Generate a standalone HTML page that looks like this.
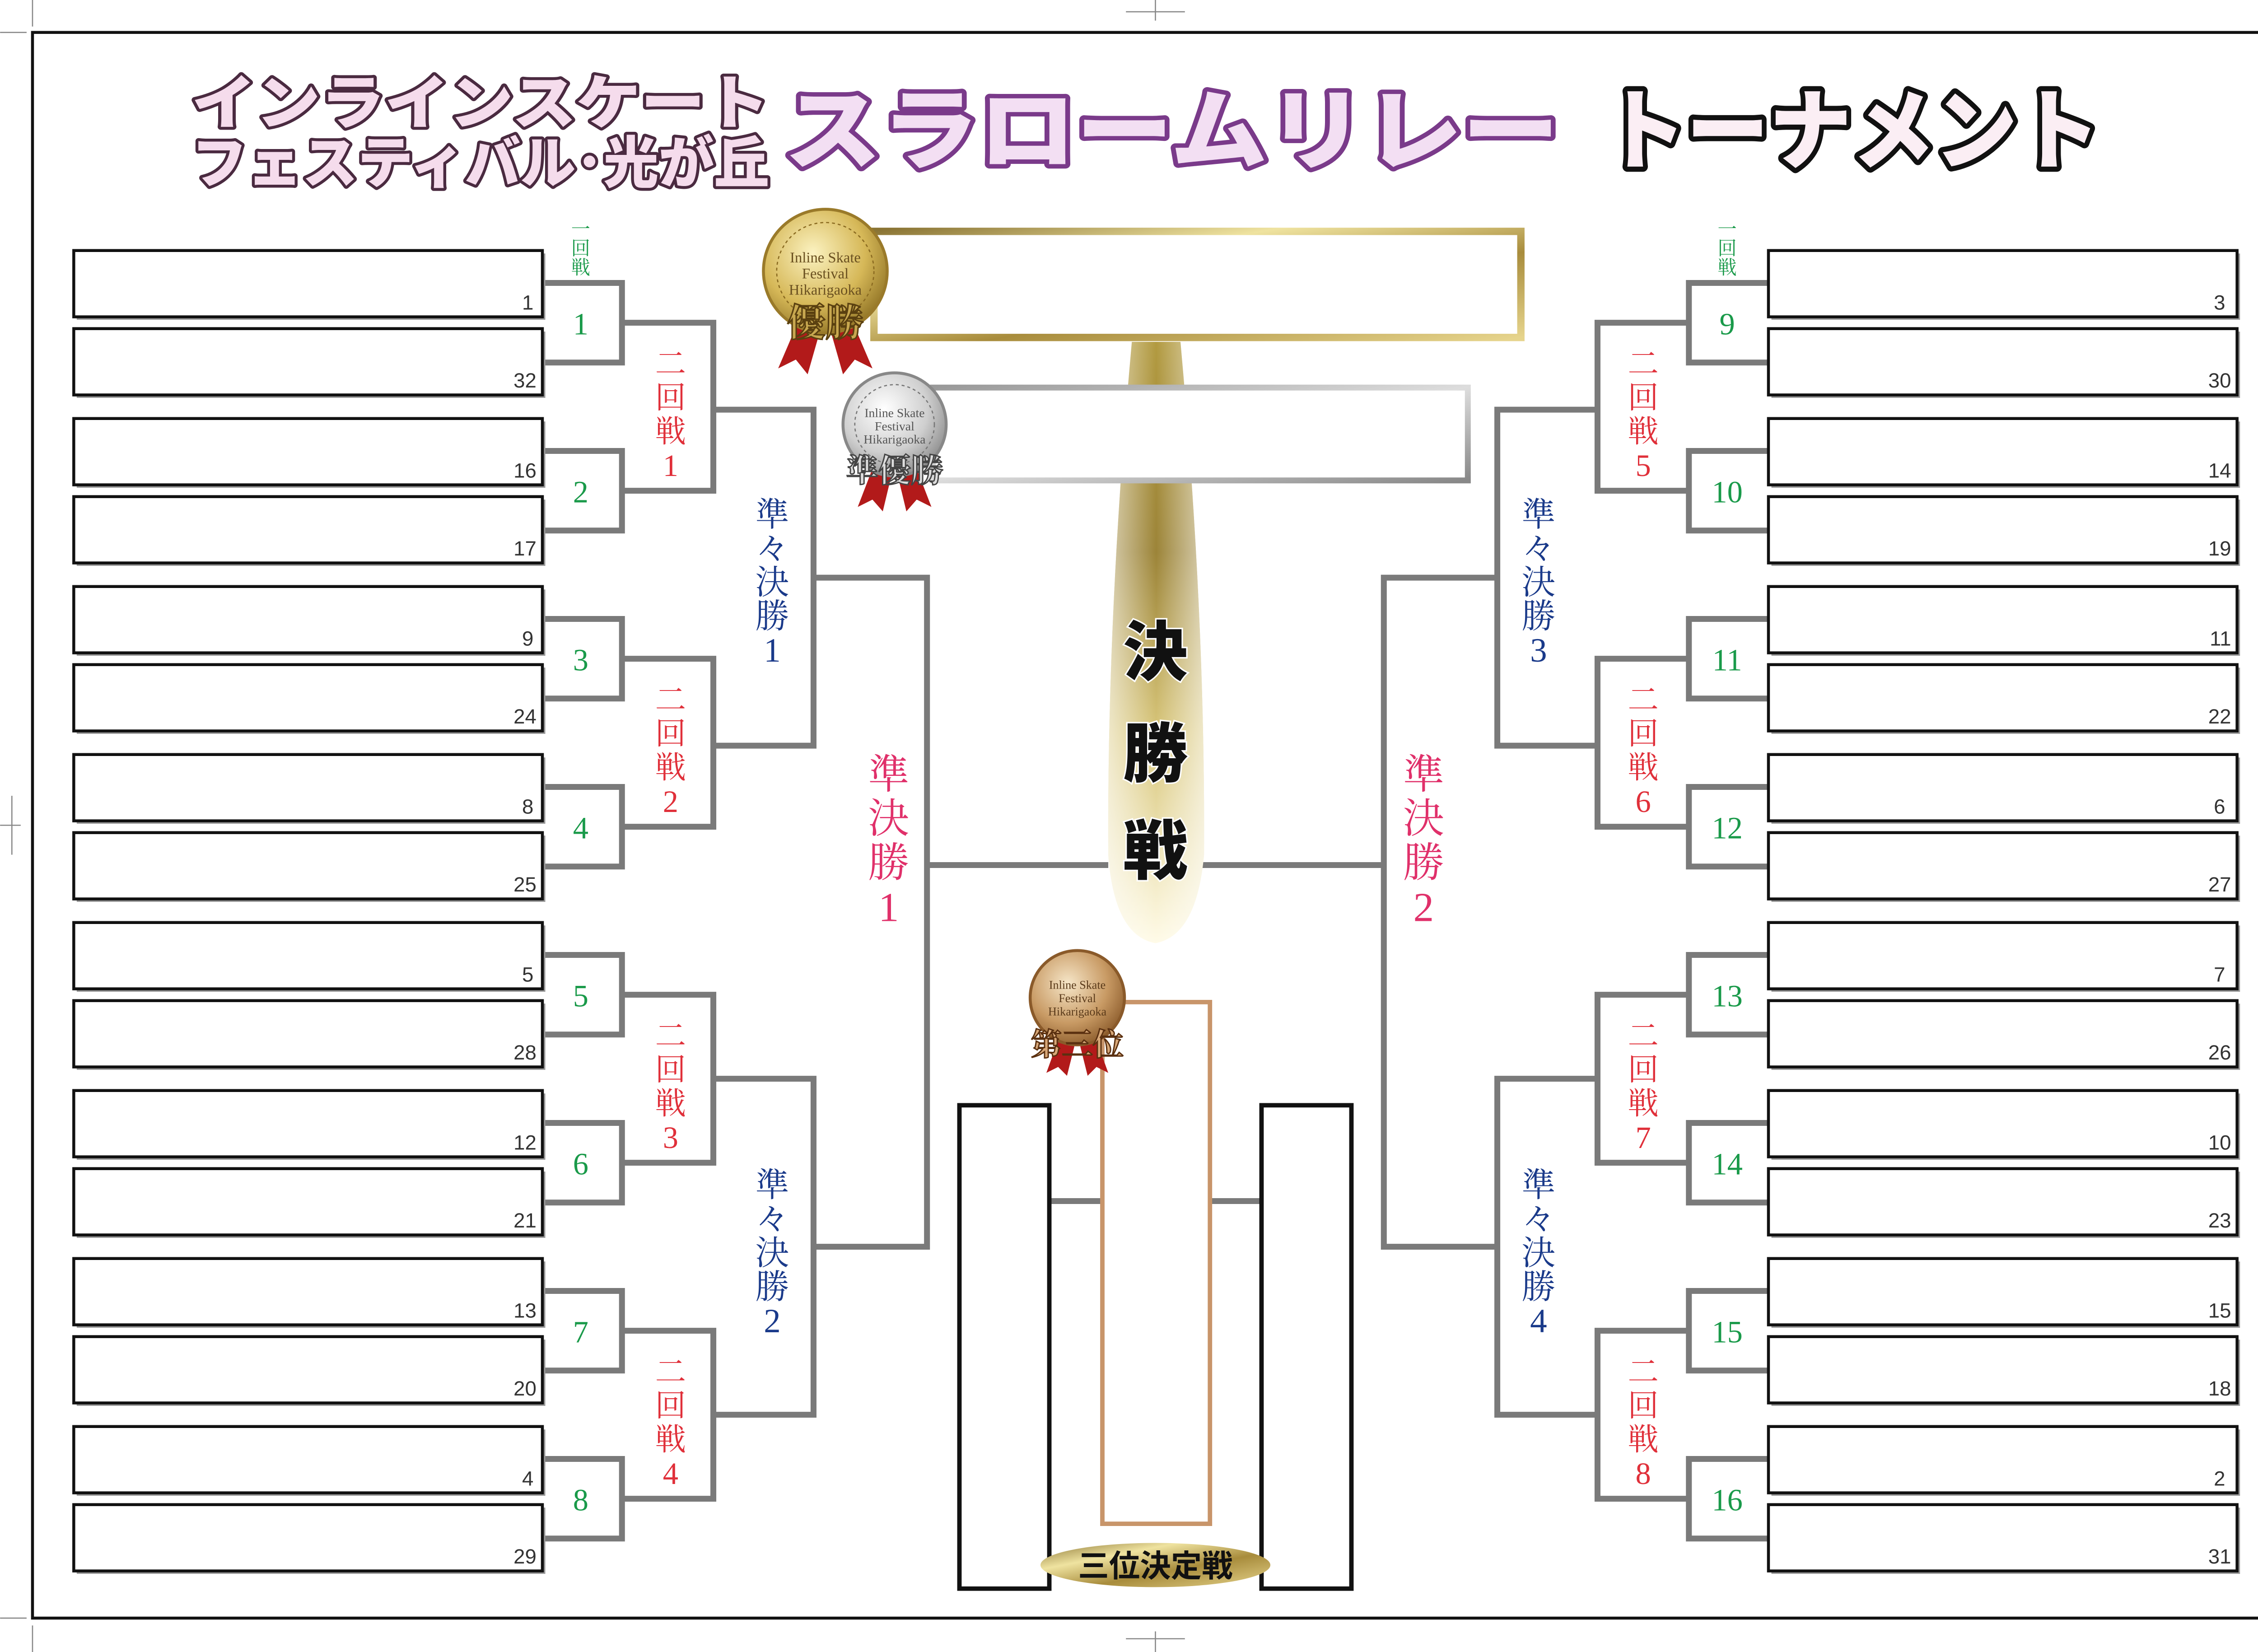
<!DOCTYPE html>
<html><head><meta charset="utf-8">
<style>
html,body{margin:0;padding:0;background:#fff;}
svg{display:block;}
</style></head><body>
<svg width="5117" height="3658" viewBox="0 0 1568 1121" xmlns="http://www.w3.org/2000/svg" font-family="Liberation Serif, Noto Serif CJK SC, Noto Sans CJK JP, serif">
<defs>
<linearGradient id="gold" x1="0" y1="0" x2="1" y2="1">
<stop offset="0" stop-color="#8a7434"/><stop offset="0.3" stop-color="#efe3a0"/><stop offset="0.6" stop-color="#a88c3c"/><stop offset="1" stop-color="#e6d48c"/></linearGradient>
<linearGradient id="col" x1="0" y1="0" x2="0" y2="1">
<stop offset="0" stop-color="#b29a40"/><stop offset="0.35" stop-color="#9c8438"/><stop offset="0.65" stop-color="#d8c67a"/><stop offset="1" stop-color="#fffbe8"/></linearGradient>
<linearGradient id="colh" x1="0" y1="0" x2="1" y2="0">
<stop offset="0" stop-color="#fff" stop-opacity="0.6"/><stop offset="0.5" stop-color="#fff" stop-opacity="0"/><stop offset="1" stop-color="#fff" stop-opacity="0.6"/></linearGradient>
<radialGradient id="gm" cx="0.4" cy="0.35" r="0.7"><stop offset="0" stop-color="#fbf2c0"/><stop offset="0.6" stop-color="#d6b858"/><stop offset="1" stop-color="#8f7224"/></radialGradient>
<radialGradient id="sm" cx="0.4" cy="0.35" r="0.7"><stop offset="0" stop-color="#ffffff"/><stop offset="0.6" stop-color="#cfcfcf"/><stop offset="1" stop-color="#8a8a8a"/></radialGradient>
<radialGradient id="bm" cx="0.4" cy="0.35" r="0.7"><stop offset="0" stop-color="#f6e6c8"/><stop offset="0.6" stop-color="#c89a64"/><stop offset="1" stop-color="#8a5a2a"/></radialGradient>
<linearGradient id="silv" x1="0" y1="0" x2="1" y2="1"><stop offset="0" stop-color="#999"/><stop offset="0.5" stop-color="#ddd"/><stop offset="1" stop-color="#888"/></linearGradient>
<g id="bx"><rect x="2" y="2" width="318" height="45" fill="#999"/><rect x="0" y="0" width="318" height="45" fill="#fff" stroke="#111" stroke-width="2"/></g>
</defs>
<rect width="1568" height="1121" fill="#fff"/>
<g stroke="#888" stroke-width="0.8" fill="none">
<path d="M784 0V14M764 8H804M784 1107V1121M764 1112H804M0 560H14M8 540V580M1554 560H1568M1560 540V580"/>
<path d="M0 22H18M22 0V18M1550 22H1568M1546 0V18M0 1098H18M22 1103V1121M1550 1098H1568M1546 1103V1121"/>
</g>
<rect x="22" y="22" width="1524" height="1076" fill="none" stroke="#111" stroke-width="2"/>

<!-- Title -->
<g font-family="Liberation Sans, Noto Sans CJK JP, sans-serif" font-weight="900" stroke-linejoin="round">
<text x="130" y="84" font-size="40" textLength="392" lengthAdjust="spacingAndGlyphs" fill="#f5dcec" stroke="#4a2a40" stroke-width="4" paint-order="stroke">インラインスケート</text>
<text x="130" y="124" font-size="38" textLength="392" lengthAdjust="spacingAndGlyphs" fill="#f5dcec" stroke="#4a2a40" stroke-width="4" paint-order="stroke">フェスティバル･光が丘</text>
<text x="532" y="110" font-size="60" textLength="526" lengthAdjust="spacingAndGlyphs" fill="#f3dff3" stroke="#7a3a8a" stroke-width="6" paint-order="stroke">スラロームリレー</text>
<text x="1088" y="110" font-size="60" textLength="337" lengthAdjust="spacingAndGlyphs" fill="#fbeef4" stroke="#111" stroke-width="7" paint-order="stroke">トーナメント</text>
</g>

<!-- Bracket lines -->
<g stroke="#7a7a7a" stroke-width="4" fill="none">
<path d="M368 192H422V246H368M368 306H422V360H368M368 420H422V474H368M368 534H422V588H368M368 648H422V702H368M368 762H422V816H368M368 876H422V930H368M368 990H422V1044H368"/>
<path d="M422 219H484V333H422M422 447H484V561H422M422 675H484V789H422M422 903H484V1017H422"/>
<path d="M484 278H552V506H484M484 732H552V960H484"/>
<path d="M552 392H629V846H552M629 587H752"/>
<path d="M1200 192H1146V246H1200M1200 306H1146V360H1200M1200 420H1146V474H1200M1200 534H1146V588H1200M1200 648H1146V702H1200M1200 762H1146V816H1200M1200 876H1146V930H1200M1200 990H1146V1044H1200"/>
<path d="M1146 219H1084V333H1146M1146 447H1084V561H1146M1146 675H1084V789H1146M1146 903H1084V1017H1146"/>
<path d="M1084 278H1016V506H1084M1084 732H1016V960H1084"/>
<path d="M1016 392H939V846H1016M939 587H816"/>
<path d="M712 815H748M821 815H856"/>
</g>

<!-- boxes -->
<use href="#bx" x="50" y="170"/><use href="#bx" x="50" y="223"/>
<use href="#bx" x="50" y="284"/><use href="#bx" x="50" y="337"/>
<use href="#bx" x="50" y="398"/><use href="#bx" x="50" y="451"/>
<use href="#bx" x="50" y="512"/><use href="#bx" x="50" y="565"/>
<use href="#bx" x="50" y="626"/><use href="#bx" x="50" y="679"/>
<use href="#bx" x="50" y="740"/><use href="#bx" x="50" y="793"/>
<use href="#bx" x="50" y="854"/><use href="#bx" x="50" y="907"/>
<use href="#bx" x="50" y="968"/><use href="#bx" x="50" y="1021"/>
<use href="#bx" x="1200" y="170"/><use href="#bx" x="1200" y="223"/>
<use href="#bx" x="1200" y="284"/><use href="#bx" x="1200" y="337"/>
<use href="#bx" x="1200" y="398"/><use href="#bx" x="1200" y="451"/>
<use href="#bx" x="1200" y="512"/><use href="#bx" x="1200" y="565"/>
<use href="#bx" x="1200" y="626"/><use href="#bx" x="1200" y="679"/>
<use href="#bx" x="1200" y="740"/><use href="#bx" x="1200" y="793"/>
<use href="#bx" x="1200" y="854"/><use href="#bx" x="1200" y="907"/>
<use href="#bx" x="1200" y="968"/><use href="#bx" x="1200" y="1021"/>

<g font-family="Liberation Sans, sans-serif" font-size="14" fill="#333" text-anchor="end">
<text x="362" y="210">1</text><text x="364" y="263">32</text>
<text x="364" y="324">16</text><text x="364" y="377">17</text>
<text x="362" y="438">9</text><text x="364" y="491">24</text>
<text x="362" y="552">8</text><text x="364" y="605">25</text>
<text x="362" y="666">5</text><text x="364" y="719">28</text>
<text x="364" y="780">12</text><text x="364" y="833">21</text>
<text x="364" y="894">13</text><text x="364" y="947">20</text>
<text x="362" y="1008">4</text><text x="364" y="1061">29</text>
<text x="1510" y="210">3</text><text x="1514" y="263">30</text>
<text x="1514" y="324">14</text><text x="1514" y="377">19</text>
<text x="1514" y="438">11</text><text x="1514" y="491">22</text>
<text x="1510" y="552">6</text><text x="1514" y="605">27</text>
<text x="1510" y="666">7</text><text x="1514" y="719">26</text>
<text x="1514" y="780">10</text><text x="1514" y="833">23</text>
<text x="1514" y="894">15</text><text x="1514" y="947">18</text>
<text x="1510" y="1008">2</text><text x="1514" y="1061">31</text>
</g>

<!-- round 1 numbers -->
<g font-size="21" fill="#1a9a4a" text-anchor="middle">
<text x="394" y="227">1</text><text x="394" y="341">2</text><text x="394" y="455">3</text><text x="394" y="569">4</text>
<text x="394" y="683">5</text><text x="394" y="797">6</text><text x="394" y="911">7</text><text x="394" y="1025">8</text>
<text x="1172" y="227">9</text><text x="1172" y="341">10</text><text x="1172" y="455">11</text><text x="1172" y="569">12</text>
<text x="1172" y="683">13</text><text x="1172" y="797">14</text><text x="1172" y="911">15</text><text x="1172" y="1025">16</text>
</g>
<g font-size="13" fill="#1a9a4a" text-anchor="middle">
<text x="394" y="160">一</text><text x="394" y="173">回</text><text x="394" y="186">戦</text>
<text x="1172" y="160">一</text><text x="1172" y="173">回</text><text x="1172" y="186">戦</text>
</g>
<!-- round 2 -->
<g font-size="21" fill="#e0303a" text-anchor="middle">
<text x="455" y="254">二</text><text x="455" y="277">回</text><text x="455" y="300">戦</text><text x="455" y="323">1</text>
<text x="455" y="482">二</text><text x="455" y="505">回</text><text x="455" y="528">戦</text><text x="455" y="551">2</text>
<text x="455" y="710">二</text><text x="455" y="733">回</text><text x="455" y="756">戦</text><text x="455" y="779">3</text>
<text x="455" y="938">二</text><text x="455" y="961">回</text><text x="455" y="984">戦</text><text x="455" y="1007">4</text>
<text x="1115" y="254">二</text><text x="1115" y="277">回</text><text x="1115" y="300">戦</text><text x="1115" y="323">5</text>
<text x="1115" y="482">二</text><text x="1115" y="505">回</text><text x="1115" y="528">戦</text><text x="1115" y="551">6</text>
<text x="1115" y="710">二</text><text x="1115" y="733">回</text><text x="1115" y="756">戦</text><text x="1115" y="779">7</text>
<text x="1115" y="938">二</text><text x="1115" y="961">回</text><text x="1115" y="984">戦</text><text x="1115" y="1007">8</text>
</g>
<!-- QF -->
<g font-size="23" fill="#1a3a8a" text-anchor="middle">
<text x="524" y="357">準</text><text x="524" y="380">々</text><text x="524" y="403">決</text><text x="524" y="426">勝</text><text x="524" y="449">1</text>
<text x="524" y="812">準</text><text x="524" y="835">々</text><text x="524" y="858">決</text><text x="524" y="881">勝</text><text x="524" y="904">2</text>
<text x="1044" y="357">準</text><text x="1044" y="380">々</text><text x="1044" y="403">決</text><text x="1044" y="426">勝</text><text x="1044" y="449">3</text>
<text x="1044" y="812">準</text><text x="1044" y="835">々</text><text x="1044" y="858">決</text><text x="1044" y="881">勝</text><text x="1044" y="904">4</text>
</g>
<!-- SF -->
<g font-size="28" fill="#e0306a" text-anchor="middle">
<text x="603" y="535">準</text><text x="603" y="565">決</text><text x="603" y="595">勝</text><text x="603" y="625">1</text>
<text x="966" y="535">準</text><text x="966" y="565">決</text><text x="966" y="595">勝</text><text x="966" y="625">2</text>
</g>

<!-- center column -->
<path d="M768 232H801Q818 420 817 580Q812 635 784 640Q756 635 752 580Q751 420 768 232Z" fill="url(#col)"/>
<path d="M768 232H801Q818 420 817 580Q812 635 784 640Q756 635 752 580Q751 420 768 232Z" fill="url(#colh)"/>
<g font-family="Liberation Sans, Noto Sans CJK JP, sans-serif" font-weight="900" font-size="44" text-anchor="middle" fill="#111" stroke="#fff" stroke-width="2" paint-order="stroke">
<text x="784" y="458">決</text><text x="784" y="527">勝</text><text x="784" y="593">戦</text>
</g>

<rect x="593" y="157" width="439" height="72" fill="#fff" stroke="url(#gold)" stroke-width="5"/>
<rect x="633" y="263" width="363" height="63" fill="#fff" stroke="url(#silv)" stroke-width="4"/>

<rect x="651" y="750" width="61" height="328" fill="#fff" stroke="#111" stroke-width="3"/>
<rect x="856" y="750" width="61" height="328" fill="#fff" stroke="#111" stroke-width="3"/>
<rect x="748" y="680" width="73" height="354" fill="#fff" stroke="#c8956a" stroke-width="3"/>
<ellipse cx="784" cy="1062" rx="78" ry="15" fill="url(#gold)"/>
<text x="784" y="1070" font-size="21" text-anchor="middle" fill="#111" font-weight="bold" font-family="Liberation Sans, Noto Sans CJK JP, sans-serif">三位決定戦</text>

<!-- medals -->
<path d="M540 222L528 250L540 244L548 254L556 226ZM580 222L592 250L580 244L572 254L564 226Z" fill="#b21a1a"/>
<circle cx="560" cy="184" r="42" fill="url(#gm)" stroke="#9a7a2a" stroke-width="2"/>
<circle cx="560" cy="184" r="33" fill="none" stroke="#8a6a20" stroke-width="0.8" stroke-dasharray="2 2"/>
<g font-size="10" text-anchor="middle" fill="#6a5020">
<text x="560" y="178">Inline Skate</text><text x="560" y="189">Festival</text><text x="560" y="200">Hikarigaoka</text></g>
<text x="560" y="228" font-size="26" font-weight="bold" text-anchor="middle" fill="#c8a850" stroke="#5a4010" stroke-width="1">優勝</text>

<path d="M592 318L582 344L592 339L599 347L605 322ZM622 318L632 344L622 339L615 347L609 322Z" fill="#b21a1a"/>
<circle cx="607" cy="288" r="35" fill="url(#sm)" stroke="#888" stroke-width="2"/>
<circle cx="607" cy="288" r="27" fill="none" stroke="#777" stroke-width="0.8" stroke-dasharray="2 2"/>
<g font-size="8.5" text-anchor="middle" fill="#555">
<text x="607" y="283">Inline Skate</text><text x="607" y="292">Festival</text><text x="607" y="301">Hikarigaoka</text></g>
<text x="607" y="327" font-size="22" font-weight="bold" text-anchor="middle" fill="#ddd" stroke="#444" stroke-width="0.9">準優勝</text>

<path d="M718 706L710 728L718 724L724 730L729 710ZM744 706L752 728L744 724L738 730L733 710Z" fill="#b21a1a"/>
<circle cx="731" cy="677" r="32" fill="url(#bm)" stroke="#8a5a2a" stroke-width="2"/>
<g font-size="8" text-anchor="middle" fill="#5a3a1a">
<text x="731" y="671">Inline Skate</text><text x="731" y="680">Festival</text><text x="731" y="689">Hikarigaoka</text></g>
<text x="731" y="716" font-size="21" font-weight="bold" text-anchor="middle" fill="#d8a878" stroke="#5a3010" stroke-width="0.9">第三位</text>
</svg>
</body></html>
